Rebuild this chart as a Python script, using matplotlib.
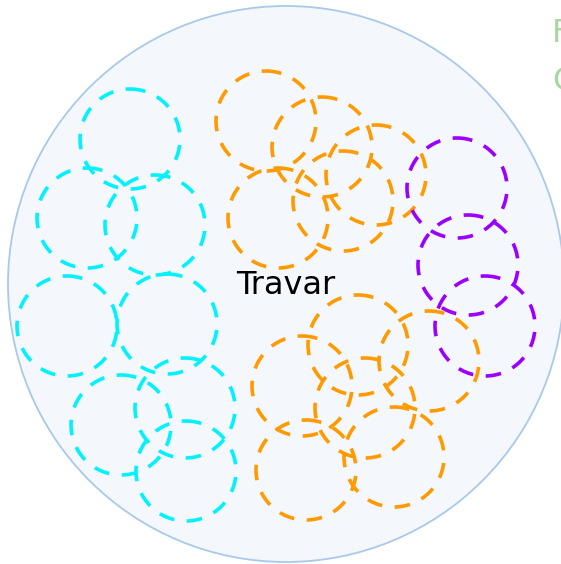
import matplotlib
matplotlib.use("Agg")
import matplotlib.pyplot as plt
from matplotlib.patches import Circle

# outer group
group_label = "Travar"
group_center = (286, 284)
group_radius = 278

# member circles (x, y) in picture units, radius shared
cyan_x = [130, 87, 155, 67, 167, 121, 185, 186]
cyan_y = [139, 218, 225, 326, 324, 425, 408, 471]
orange_x = [266, 322, 376, 343, 278, 358, 429, 302, 365, 394, 306]
orange_y = [121, 147, 175, 201, 218, 345, 361, 386, 408, 457, 470]
purple_x = [457, 468, 485]
purple_y = [188, 265, 326]
member_radius = 50

legend_labels = ["F", "C"]


def main():
    fig = plt.figure(figsize=(5.61, 5.64), dpi=100)
    ax = fig.add_axes([0, 0, 1, 1])
    ax.set_xlim(0, 561)
    ax.set_ylim(564, 0)
    ax.set_aspect('equal')
    ax.axis('off')

    # big enclosing circle
    ax.add_patch(Circle(group_center, group_radius, facecolor='#f4f7fb',
                        edgecolor='#a9c9ea', linewidth=1.3))

    # dashed member circles
    series = [
        (cyan_x, cyan_y, '#00f2ff'),
        (orange_x, orange_y, '#ff9a00'),
        (purple_x, purple_y, '#9b00ff'),
    ]
    for xs, ys, color in series:
        for x, y in zip(xs, ys):
            ax.add_patch(Circle((x, y), member_radius, fill=False,
                                edgecolor=color, linewidth=2.6,
                                linestyle=(0, (4.3, 3.5))))

    # group label
    ax.text(286, 286, group_label,
            fontsize=23, ha='center', va='center', color='black')

    # legend texts, cut off at the right edge like the reference
    for i, lab in enumerate(legend_labels):
        ax.text(552, 34 + i * 47, lab, fontsize=23, ha='left', va='center',
                color='#a8d8a0', clip_on=False)

    fig.savefig('out.png', dpi=100)


if __name__ == '__main__':
    main()
